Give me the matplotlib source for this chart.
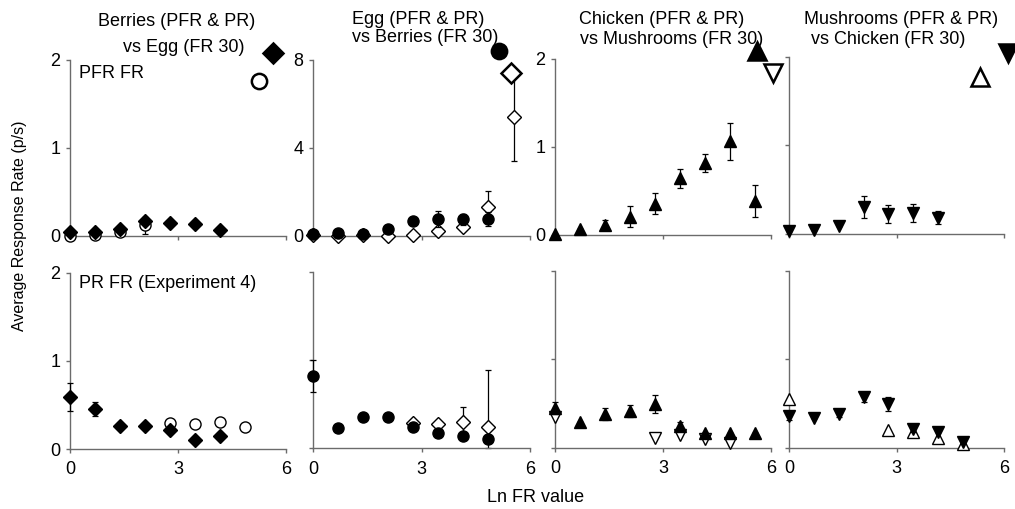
import matplotlib

matplotlib.use("Agg")
import matplotlib.pyplot as plt

plt.rcParams.update(
    {
        "font.family": ["Liberation Sans", "DejaVu Sans"],
        "font.size": 13,
        "axes.edgecolor": "#6b6b6b",
        "axes.linewidth": 1.0,
        "xtick.color": "#6b6b6b",
        "ytick.color": "#6b6b6b",
        "xtick.labelcolor": "black",
        "ytick.labelcolor": "black",
    }
)

# ln of the fixed-ratio values FR 1, 2, 4, ... 256
LN_FR = [0.0, 0.69, 1.39, 2.08, 2.77, 3.47, 4.16, 4.85, 5.55]

# --- PFR FR (top row) ---
berries_pfr = [0.04, 0.05, 0.08, 0.17, 0.15, 0.14, 0.07]
egg_fr_b = [0.0, 0.01, 0.04, 0.12]
egg_fr_b_err = [0.0, 0.0, 0.0, 0.10]

egg_pfr = [0.08, 0.12, 0.09, 0.33, 0.68, 0.79, 0.77, 0.77]
egg_pfr_err = [0, 0, 0, 0, 0, 0.36, 0.25, 0.30]
berries_fr_e = [0.03, 0.0, 0.03, 0.0, 0.03, 0.21, 0.41, 1.33, 5.42]
berries_fr_e_err = [0, 0, 0, 0, 0, 0, 0.08, 0.73, 2.0]

chicken_pfr = [0.01, 0.06, 0.11, 0.20, 0.35, 0.64, 0.81, 1.06, 0.38]
chicken_pfr_err = [0, 0, 0.05, 0.12, 0.12, 0.11, 0.10, 0.21, 0.18]

mushrooms_pfr = [0.03, 0.045, 0.09, 0.30, 0.22, 0.23, 0.18]
mushrooms_pfr_err = [0, 0, 0, 0.13, 0.10, 0.10, 0.07]

# --- PR FR (bottom row) ---
berries_pr = [0.59, 0.45, 0.26, 0.26, 0.21, 0.10, 0.15]
berries_pr_err = [0.16, 0.08, 0, 0, 0, 0, 0]
egg_fr_pr = [0.29, 0.28, 0.31, 0.25]          # FR 16 .. FR 128

egg_pr = [0.82, 0.23, 0.35, 0.35, 0.24, 0.17, 0.14, 0.10]
egg_pr_err = [0.18, 0, 0, 0, 0, 0, 0, 0]
berries_fr_pr = [0.28, 0.27, 0.30, 0.24]      # FR 16 .. FR 128
berries_fr_pr_lo = [0, 0, 0.17, 0.24]
berries_fr_pr_hi = [0, 0, 0.17, 0.64]

chicken_pr = [0.45, 0.29, 0.38, 0.41, 0.49, 0.24, 0.16, 0.16, 0.16]
chicken_pr_err = [0.07, 0, 0.07, 0.07, 0.10, 0.05, 0, 0, 0]
mush_fr_pr_idx = [0, 4, 5, 6, 7]
mush_fr_pr = [0.35, 0.11, 0.14, 0.10, 0.05]

mushrooms_pr = [0.36, 0.33, 0.38, 0.57, 0.49, 0.21, 0.18, 0.06]
mushrooms_pr_err = [0.05, 0, 0.04, 0.06, 0.08, 0.03, 0, 0]
chick_fr_pr_idx = [0, 4, 5, 6, 7]
chick_fr_pr = [0.55, 0.20, 0.18, 0.11, 0.04]

# key symbols sitting above each top panel: (x, y) in data units
key_marks = [
    [("D", True, 5.63, 2.08), ("o", False, 5.26, 1.76)],
    [("o", True, 5.14, 8.42), ("D", False, 5.48, 7.42)],
    [("^", True, 5.60, 2.08), ("v", False, 6.05, 1.83)],
    [("^", False, 5.33, 1.77), ("v", True, 6.12, 2.05)],
]

titles = [
    [("Berries (PFR & PR)", 98, 26), ("vs Egg (FR 30)", 123, 52.5)],
    [("Egg (PFR & PR)", 352.5, 24), ("vs Berries (FR 30)", 352.5, 42.5)],
    [("Chicken (PFR & PR)", 579, 23.5), ("vs Mushrooms (FR 30)", 580, 43.5)],
    [("Mushrooms (PFR & PR)", 804, 23.5), (" vs Chicken (FR 30)", 806, 43.5)],
]

W, H = 1015, 509
fig = plt.figure(figsize=(W / 100, H / 100), dpi=100)

COL_X = [70, 313, 555, 789]
COL_W = [216, 217, 216, 215]
TOP_ROW = [(60, 236), (60, 236), (58.5, 234.5), (57, 233.5)]
BOT_ROW = [(272.5, 449), (271.5, 448), (271, 447.5), (271, 447.5)]

SMALL = {"D": 7.0, "o": 8.0, "^": 9.0, "v": 9.0}
BIG = {"D": 9.8, "o": 11.0, "^": 13.5, "v": 12.5}


def make_axes(col, rows):
    top, bot = rows[col]
    ax = fig.add_axes([COL_X[col] / W, (H - bot) / H, COL_W[col] / W, (bot - top) / H])
    ax.set_xlim(0, 6)
    ax.spines["top"].set_visible(False)
    ax.spines["right"].set_visible(False)
    ax.set_xticks([0, 3, 6])
    ax.tick_params(direction="out", length=3, width=1, pad=4, labelsize=13)
    ax.tick_params(axis="x", pad=6)
    ax.patch.set_visible(False)
    return ax


def series(ax, xs, ys, marker, filled, err=None, z=3):
    ms = SMALL[marker]
    if err is not None:
        ax.errorbar(xs, ys, yerr=err, fmt="none", ecolor="black", elinewidth=0.9,
                    capsize=2.3, capthick=0.9, zorder=z - 0.5, clip_on=False)
    ax.plot(xs, ys, linestyle="none", marker=marker, markersize=ms,
            markerfacecolor="black" if filled else "white", markeredgecolor="black",
            markeredgewidth=1.0, zorder=z, clip_on=False)


def key(ax, marks):
    for marker, filled, x, y in marks:
        ax.plot([x], [y], linestyle="none", marker=marker, markersize=BIG[marker],
                markerfacecolor="black" if filled else "white", markeredgecolor="black",
                markeredgewidth=1.8, zorder=6, clip_on=False)


# ---- top row: PFR FR ----
top_axes = [make_axes(c, TOP_ROW) for c in range(4)]
ylims = [2, 8, 2, 2]
yticks = [[0, 1, 2], [0, 4, 8], [0, 1, 2], [0, 1, 2]]
for c, ax in enumerate(top_axes):
    ax.set_ylim(0, ylims[c])
    ax.set_yticks(yticks[c])
    ax.tick_params(axis="x", labelbottom=False)
    if c == 3:
        ax.tick_params(axis="y", labelleft=False)
    key(ax, key_marks[c])

ax = top_axes[0]
series(ax, LN_FR[:4], egg_fr_b, "o", False, egg_fr_b_err, z=3)
series(ax, LN_FR[:7], berries_pfr, "D", True, z=4)
ax.text(0.25, 1.795, "PFR FR", ha="left", va="baseline", fontsize=13)

ax = top_axes[1]
series(ax, LN_FR, berries_fr_e, "D", False, berries_fr_e_err, z=3)
series(ax, LN_FR[:8], egg_pfr, "o", True, egg_pfr_err, z=4)

ax = top_axes[2]
series(ax, LN_FR, chicken_pfr, "^", True, chicken_pfr_err)

ax = top_axes[3]
series(ax, LN_FR[:7], mushrooms_pfr, "v", True, mushrooms_pfr_err)

# ---- bottom row: PR FR ----
bot_axes = [make_axes(c, BOT_ROW) for c in range(4)]
for c, ax in enumerate(bot_axes):
    ax.set_ylim(0, 2)
    ax.set_yticks([0, 1, 2])
    if c > 0:
        ax.tick_params(axis="y", labelleft=False)

ax = bot_axes[0]
series(ax, LN_FR[4:8], egg_fr_pr, "o", False, z=3)
series(ax, LN_FR[:7], berries_pr, "D", True, berries_pr_err, z=4)
ax.text(0.25, 1.83, "PR FR (Experiment 4)", ha="left", va="baseline", fontsize=13)

ax = bot_axes[1]
series(ax, LN_FR[4:8], berries_fr_pr, "D", False, [berries_fr_pr_lo, berries_fr_pr_hi], z=3)
series(ax, LN_FR[:8], egg_pr, "o", True, egg_pr_err, z=4)

ax = bot_axes[2]
series(ax, [LN_FR[i] for i in mush_fr_pr_idx], mush_fr_pr, "v", False, z=3)
series(ax, LN_FR, chicken_pr, "^", True, chicken_pr_err, z=4)

ax = bot_axes[3]
series(ax, [LN_FR[i] for i in chick_fr_pr_idx], chick_fr_pr, "^", False, z=3)
series(ax, LN_FR[:8], mushrooms_pr, "v", True, mushrooms_pr_err, z=4)

# panel headings
for lines in titles:
    for text, px, py in lines:
        fig.text(px / W, 1 - py / H, text, ha="left", va="baseline", fontsize=13)

fig.text(20 / W, 1 - 226 / H, "Average Response Rate (p/s)", rotation=90,
         ha="center", va="center", fontsize=11.5)
fig.text(536 / W, 1 - 498 / H, "Ln FR value", ha="center", va="center", fontsize=13)

fig.savefig("out.png", dpi=100)
